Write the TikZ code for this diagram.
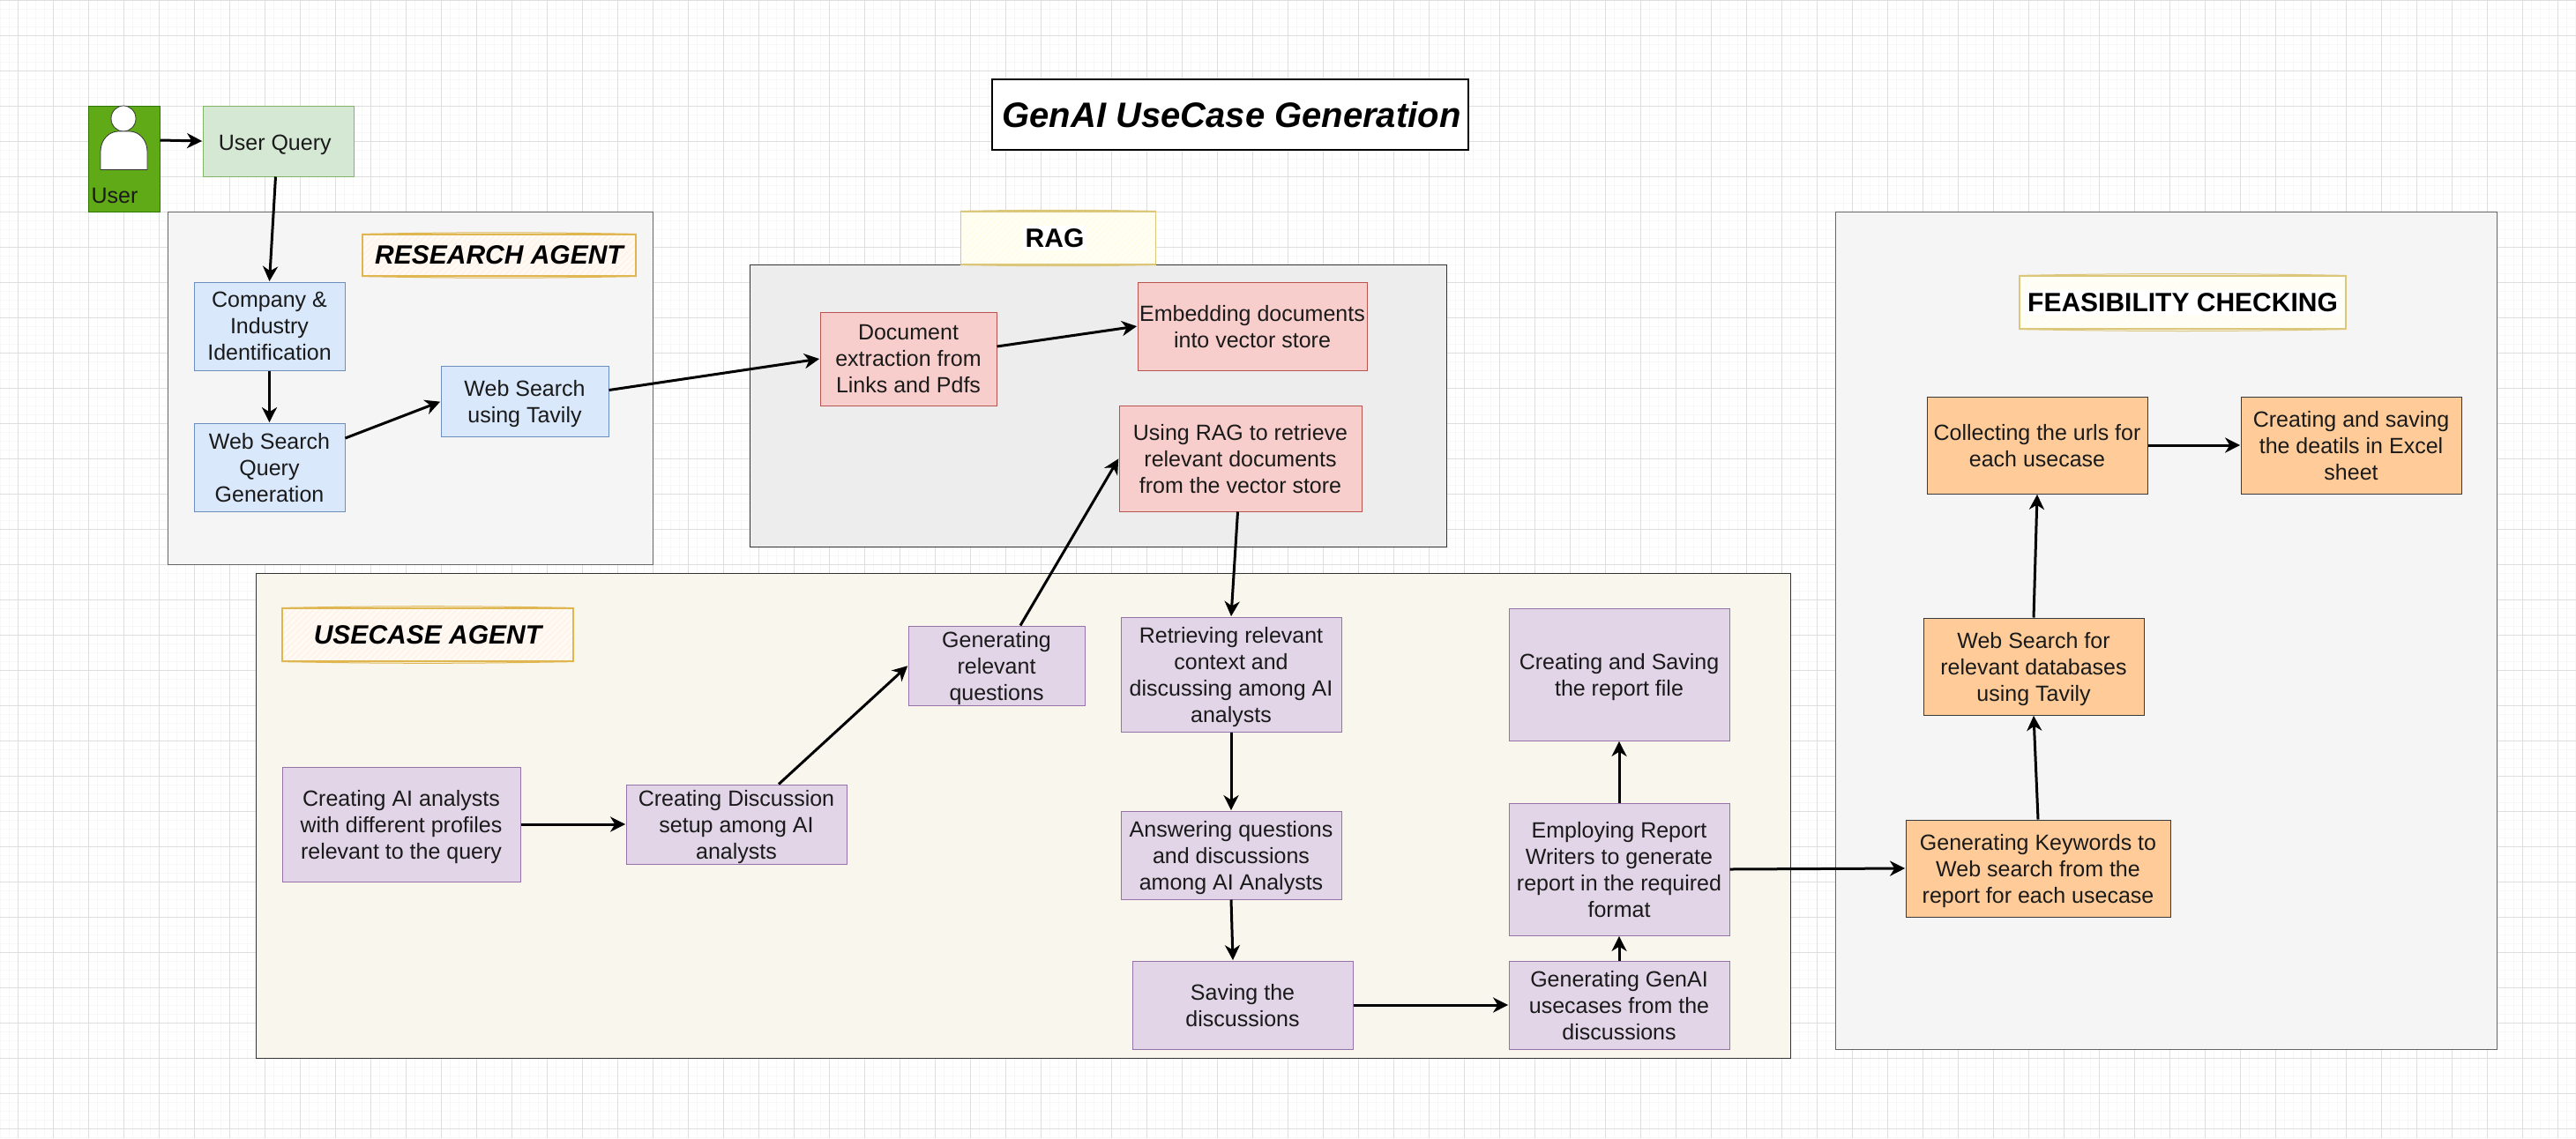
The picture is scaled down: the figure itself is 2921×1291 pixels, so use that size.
\documentclass[tikz,border=0pt]{standalone}
\usepackage{fontspec}
\setmainfont{Liberation Sans}
\usetikzlibrary{arrows.meta,patterns.meta}
\definecolor{gridmajor}{HTML}{DEDEDE}
\definecolor{gridminor}{HTML}{F7F7F7}
\definecolor{boxtext}{HTML}{1A1A1A}
\definecolor{goldline}{HTML}{DCC67A}
\definecolor{amberline}{HTML}{E0B651}
\definecolor{querygreen}{HTML}{D5E8D4}
\definecolor{queryline}{HTML}{82B366}
\definecolor{researchblue}{HTML}{DAE8FC}
\definecolor{researchline}{HTML}{6C8EBF}
\definecolor{ragred}{HTML}{F8CECC}
\definecolor{ragline}{HTML}{B85450}
\definecolor{usecaseviolet}{HTML}{E1D5E7}
\definecolor{usecaseline}{HTML}{9673A6}
\definecolor{feasorange}{HTML}{FFCC99}
\definecolor{feasline}{HTML}{36393D}
\definecolor{usecasepanel}{HTML}{F9F7ED}
\definecolor{userfill}{HTML}{60A917}
\definecolor{userline}{HTML}{2D7600}
\tikzset{
	% ------- every something
	every node/.style={
		font=\fontsize{12.5}{15}\selectfont,
		text=boxtext,
		align=center,
		inner sep=0pt,
	},
	% ------- custom
	vector/.style={
		-{Stealth[length=8.5pt,width=8.5pt,inset=2.6pt]},
		line width=1.5pt,
		black,
		shorten >=0.2pt,
	},
	boxsize/.style 2 args={
		minimum width=#1*0.5pt,
		minimum height=#2*0.5pt,
	},
	container/.style={
		draw=#1,
		line width=0.5pt,
	},
	block/.style 2 args={
		draw=#2,
		fill=#1,
		line width=0.5pt,
		text depth=-1pt,
		execute at begin node={\rule{0pt}{10.3pt}},
	},
	querybox/.style={block={querygreen}{queryline}},
	researchbox/.style={block={researchblue}{researchline}},
	ragbox/.style={block={ragred}{ragline}},
	usecasebox/.style={block={usecaseviolet}{usecaseline}},
	feasibilitybox/.style={block={feasorange}{feasline}},
	sketch/.style 2 args={
		draw=#2,
		line width=0.6pt,
		preaction={fill=#1},
		pattern={Lines[angle=45,distance=2.5pt,line width=0.6pt]},
		pattern color=white,
		append after command={
			(\tikzlastnode.north west) edge[draw=#2,line width=0.5pt,bend left=1] (\tikzlastnode.north east)
			(\tikzlastnode.south west) edge[draw=#2,line width=0.5pt,bend right=1] (\tikzlastnode.south east)
		},
	},
	agentlabel/.style={
		font=\fontsize{15}{18}\selectfont\bfseries\itshape,
		text=black,
	},
	plainlabel/.style={
		font=\fontsize{15}{18}\selectfont\bfseries,
		text=black,
	},
}

\begin{document}
\begin{tikzpicture}[x=0.5pt,y=-0.5pt]

% page and grid %{{{1

	\fill[white] (0,0) rectangle (2921,1291);
	\useasboundingbox (0,0) rectangle (2921,1291);

	\foreach \gx in {0,10,...,2920} {
		\draw[gridminor,line width=0.5pt] (\gx,0) -- (\gx,1291);
	}
	\foreach \gy in {0,10,...,1290} {
		\draw[gridminor,line width=0.5pt] (0,\gy) -- (2921,\gy);
	}
	\foreach \gx in {20,60,...,2900} {
		\draw[gridmajor,line width=0.5pt] (\gx,0) -- (\gx,1291);
	}
	\foreach \gy in {0,40,...,1280} {
		\draw[gridmajor,line width=0.5pt] (0,\gy) -- (2921,\gy);
	}

% containers %{{{1

	\node[container=black!60, fill=black!4, boxsize={550}{400}] (research) at (465,440) {};
	\node[container=black!80, fill=black!7, boxsize={790}{320}] (rag) at (1245.5,460) {};
	\node[container=black!80, fill=usecasepanel, boxsize={1740}{550}] (usecase) at (1160,925) {};
	\node[container=black!60, fill=black!4, boxsize={750}{950}] (feasibility) at (2456,715) {};

% title and section labels %{{{1

	\node[draw=black, line width=0.6pt, fill=white, boxsize={540}{80},
		font=\fontsize{20}{24}\selectfont\bfseries\itshape, text=black] (title) at (1395,130)
		{\hspace{1.5pt}GenAI UseCase Generation};
	\node[sketch={orange!8}{amberline}, agentlabel, boxsize={310}{47}] (researchlabel) at (566,289.5)
		{RESEARCH AGENT};
	\node[sketch={yellow!8}{goldline}, plainlabel, boxsize={221}{60}] (raglabel) at (1200,270)
		{\fboxsep=1.5pt\colorbox{white}{RAG}\hspace{4pt}};
	\node[sketch={orange!8}{amberline}, agentlabel, boxsize={330}{60}] (usecaselabel) at (485,720)
		{USECASE AGENT};
	\node[sketch={yellow!6}{goldline}, plainlabel, boxsize={370}{60}] (feasibilitylabel) at (2475,343)
		{\fboxsep=1.5pt\colorbox{white}{FEASIBILITY CHECKING}};

% user %{{{1

	\node[draw=userline, fill=userfill, line width=0.5pt, boxsize={81}{120}] (user) at (140.5,180) {};
	\fill[white, draw=black!80, line width=0.4pt] (140,134.5) ellipse (14 and 14.5);
	\fill[white, draw=black!80, line width=0.4pt] (114,192.5) -- (114,172)
		.. controls (114,158) and (124,149) .. (134,149) -- (147,149)
		.. controls (157,149) and (167,158) .. (167,172) -- (167,192.5) -- cycle;
	\node (userlabel) at (130,222) {User};

% research agent blocks %{{{1

	\node[querybox, boxsize={171}{80}] (query) at (315.5,160) {User Query\hspace{3.8pt}};
	\node[researchbox, boxsize={171}{100}] (company) at (305.5,370) {Company \&\\Industry\\Identification};
	\node[researchbox, boxsize={171}{100}] (webquery) at (305.5,530) {Web Search\\Query\\Generation};
	\node[researchbox, boxsize={190}{80}] (tavily) at (595,455.5) {Web Search\\using Tavily};

% rag blocks %{{{1

	\node[ragbox, boxsize={200}{106}] (extraction) at (1030,407) {Document\\extraction from\\Links and Pdfs};
	\node[ragbox, boxsize={260}{100}] (embedding) at (1420,370) {Embedding documents\\into vector store};
	\node[ragbox, boxsize={275}{120}] (retrieve) at (1406.5,520) {Using RAG to retrieve\\relevant documents\\from the vector store};

% usecase agent blocks %{{{1

	\node[usecasebox, boxsize={270}{130}] (analysts) at (455,935) {Creating AI analysts\\with different profiles\\relevant to the query};
	\node[usecasebox, boxsize={250}{90}] (discussion) at (835,935) {Creating Discussion\\setup among AI\\analysts};
	\node[usecasebox, boxsize={200}{90}] (questions) at (1130,755) {Generating\\relevant\\questions};
	\node[usecasebox, boxsize={250}{130}] (context) at (1396,765) {Retrieving relevant\\context and\\discussing among AI\\analysts};
	\node[usecasebox, boxsize={250}{100}] (answering) at (1396,970) {Answering questions\\and discussions\\among AI Analysts};
	\node[usecasebox, boxsize={250}{100}] (saving) at (1409,1140) {Saving the\\discussions};
	\node[usecasebox, boxsize={250}{100}] (usecases) at (1836,1140) {Generating GenAI\\usecases from the\\discussions};
	\node[usecasebox, boxsize={250}{150}] (writers) at (1836,986) {Employing Report\\Writers to generate\\report in the required\\format};
	\node[usecasebox, boxsize={250}{150}] (reportfile) at (1836,765) {Creating and Saving\\the report file};

% feasibility blocks %{{{1

	\node[feasibilitybox, boxsize={300}{110}] (keywords) at (2311,985) {Generating Keywords to\\Web search from the\\report for each usecase};
	\node[feasibilitybox, boxsize={250}{110}] (databases) at (2306,756) {Web Search for\\relevant databases\\using Tavily};
	\node[feasibilitybox, boxsize={250}{110}] (urls) at (2310,505) {Collecting the urls for\\each usecase};
	\node[feasibilitybox, boxsize={250}{110}] (excel) at (2666,505) {Creating and saving\\the deatils in Excel\\sheet};

% connectors %{{{1

	\draw[vector] ([yshift=10.5pt]user.east) -- (query.west);
	\draw[vector] ([xshift=-1.5pt]query.south) -- (company.north);
	\draw[vector] (company.south) -- (webquery.north);
	\draw[vector] ([yshift=16.5pt]webquery.east) -- (tavily.west);
	\draw[vector] ([yshift=6.5pt]tavily.east) -- (extraction.west);
	\draw[vector] ([yshift=7pt]extraction.east) -- (embedding.west);
	\draw[vector] (analysts.east) -- (discussion.west);
	\draw[vector] ([xshift=24pt]discussion.north) -- (questions.west);
	\draw[vector] ([xshift=13.5pt]questions.north) -- (retrieve.west);
	\draw[vector] ([xshift=-1.5pt]retrieve.south) -- (context.north);
	\draw[vector] (context.south) -- (answering.north);
	\draw[vector] (answering.south) -- ([xshift=-5.5pt]saving.north);
	\draw[vector] (saving.east) -- (usecases.west);
	\draw[vector] (usecases.north) -- (writers.south);
	\draw[vector] (writers.north) -- (reportfile.south);
	\draw[vector] (writers.east) -- (keywords.west);
	\draw[vector] (keywords.north) -- (databases.south);
	\draw[vector] (databases.north) -- (urls.south);
	\draw[vector] (urls.east) -- (excel.west);

% closing %{{{1

\end{tikzpicture}
\end{document}
